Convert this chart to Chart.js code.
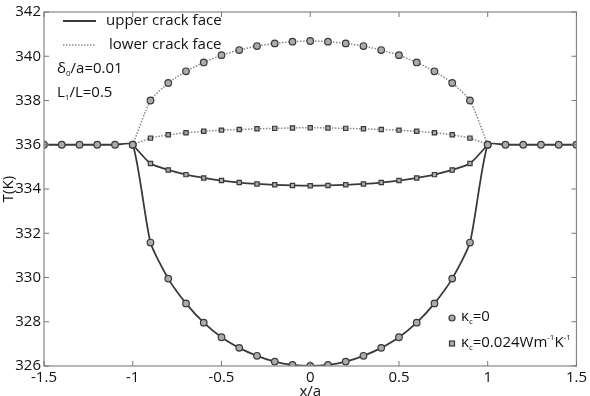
<!DOCTYPE html>
<html><head><meta charset="utf-8">
<script src="https://cdn.jsdelivr.net/npm/chart.js@4/dist/chart.umd.min.js"></script>
<style>html,body{margin:0;padding:0;background:#fff}#wrap{width:590px;height:396px}</style>
</head><body><div id="wrap"><canvas id="c" width="590" height="396"></canvas></div>
<script>
// x/a positions
const xFull = [-1.5,-1.4,-1.3,-1.2,-1.1,-1.0,-0.9,-0.8,-0.7,-0.6,-0.5,-0.4,-0.3,-0.2,-0.1,0,0.1,0.2,0.3,0.4,0.5,0.6,0.7,0.8,0.9,1.0,1.1,1.2,1.3,1.4,1.5];
const xCrack = [-1.0,-0.9,-0.8,-0.7,-0.6,-0.5,-0.4,-0.3,-0.2,-0.1,0,0.1,0.2,0.3,0.4,0.5,0.6,0.7,0.8,0.9,1.0];
// T (K) values
const upperK0 = [336,336,336,336,336,336,331.58,329.95,328.83,327.96,327.30,326.82,326.46,326.20,326.05,326.00,326.05,326.20,326.46,326.82,327.30,327.96,328.83,329.95,331.58,336,336,336,336,336,336];
const lowerK0 = [336,338.00,338.79,339.32,339.72,340.05,340.28,340.46,340.58,340.66,340.69,340.66,340.58,340.46,340.28,340.05,339.72,339.32,338.79,338.00,336];
const upperK024 = [336,335.15,334.86,334.65,334.50,334.38,334.29,334.23,334.19,334.16,334.15,334.16,334.19,334.23,334.29,334.38,334.50,334.65,334.86,335.15,336];
const lowerK024 = [336,336.30,336.45,336.54,336.61,336.66,336.69,336.72,336.74,336.76,336.77,336.76,336.74,336.72,336.69,336.66,336.61,336.54,336.45,336.30,336];
const xTicks = [-1.5,-1,-0.5,0,0.5,1,1.5];
const yTicks = [326,328,330,332,334,336,338,340,342];

const FONT = "'Open Sans', sans-serif";
const pts = (xs, ys) => xs.map((x,i)=>({x:x, y:ys[i]}));
const solid = '#3a3a3a', dotted = '#8a8a8a', mfill = '#ababab', medge = '#3a3a3a';

const extras = {
  id:'extras',
  afterDraw(chart){
    const {ctx, chartArea:a, scales:{x, y}} = chart;
    ctx.save();
    ctx.strokeStyle = '#888'; ctx.lineWidth = 1.2;
    ctx.strokeRect(a.left, a.top, a.right-a.left, a.bottom-a.top);
    ctx.strokeStyle = '#777'; ctx.lineWidth = 1;
    ctx.beginPath();
    xTicks.forEach(v=>{const p=x.getPixelForValue(v); ctx.moveTo(p,a.bottom); ctx.lineTo(p,a.bottom-5); ctx.moveTo(p,a.top); ctx.lineTo(p,a.top+5);});
    yTicks.forEach(v=>{const p=y.getPixelForValue(v); ctx.moveTo(a.left,p); ctx.lineTo(a.left+5,p); ctx.moveTo(a.right,p); ctx.lineTo(a.right-5,p);});
    ctx.stroke();
    ctx.fillStyle = '#111'; ctx.textBaseline = 'middle'; ctx.textAlign='left';
    ctx.font = `15px ${FONT}`;
    ctx.strokeStyle = solid; ctx.lineWidth = 2; ctx.setLineDash([]);
    ctx.beginPath(); ctx.moveTo(63,21); ctx.lineTo(96,21); ctx.stroke();
    ctx.fillText('upper crack face', 106, 21);
    ctx.strokeStyle = dotted; ctx.lineWidth = 1.5; ctx.setLineDash([1.5,1.5]);
    ctx.beginPath(); ctx.moveTo(63,45); ctx.lineTo(96,45); ctx.stroke();
    ctx.setLineDash([]);
    ctx.fillText('lower crack face', 109, 45);
    const sub = (base, s, rest, x0, y0) => {
      ctx.font = `15px ${FONT}`; ctx.fillText(base, x0, y0);
      let w = ctx.measureText(base).width;
      ctx.font = `8px ${FONT}`; ctx.fillText(s, x0+w, y0+5);
      w += ctx.measureText(s).width;
      ctx.font = `15px ${FONT}`; ctx.fillText(rest, x0+w, y0);
    };
    sub('δ','0','/a=0.01', 57, 69);
    sub('L','1','/L=0.5', 57, 93);
    ctx.strokeStyle = medge; ctx.fillStyle = mfill; ctx.lineWidth = 1.2;
    ctx.beginPath(); ctx.arc(452, 318, 3, 0, Math.PI*2); ctx.fill(); ctx.stroke();
    ctx.fillRect(449.5, 341, 5, 5); ctx.strokeRect(449.5, 341, 5, 5);
    ctx.fillStyle = '#111';
    sub('κ','c','=0', 461, 317);
    let x0 = 461, y0 = 343;
    ctx.font = `15px ${FONT}`; ctx.fillText('κ', x0, y0); x0 += ctx.measureText('κ').width;
    ctx.font = `8px ${FONT}`; ctx.fillText('c', x0, y0+5); x0 += ctx.measureText('c').width;
    ctx.font = `15px ${FONT}`; ctx.fillText('=0.024Wm', x0, y0); x0 += ctx.measureText('=0.024Wm').width;
    ctx.font = `8px ${FONT}`; ctx.fillText('-1', x0, y0-5); x0 += ctx.measureText('-1').width;
    ctx.font = `15px ${FONT}`; ctx.fillText('K', x0, y0); x0 += ctx.measureText('K').width;
    ctx.font = `8px ${FONT}`; ctx.fillText('-1', x0, y0-5);
    ctx.restore();
  }
};

const common = {pointBackgroundColor:mfill, pointBorderColor:medge, pointBorderWidth:1.2, tension:0.2};
new Chart(document.getElementById('c'), {
  type:'line',
  data:{datasets:[
    Object.assign({label:'lower crack face, κc=0', data:pts(xCrack, lowerK0), borderColor:dotted, borderWidth:1.5, borderDash:[1.5,1.5], pointStyle:'circle', pointRadius:3.3}, common),
    Object.assign({label:'lower crack face, κc=0.024', data:pts(xCrack, lowerK024), borderColor:dotted, borderWidth:1.5, borderDash:[1.5,1.5], pointStyle:'rect', pointRadius:3}, common),
    Object.assign({label:'upper crack face, κc=0.024', data:pts(xCrack, upperK024), borderColor:solid, borderWidth:1.8, pointStyle:'rect', pointRadius:3}, common),
    Object.assign({label:'upper crack face, κc=0', data:pts(xFull, upperK0), borderColor:solid, borderWidth:1.8, pointStyle:'circle', pointRadius:3.3}, common)
  ]},
  options:{
    responsive:false, animation:false, devicePixelRatio:1,
    layout:{padding:{top:7, right:12, left:0, bottom:0}},
    plugins:{legend:{display:false}, tooltip:{enabled:false}},
    scales:{
      x:{type:'linear', min:-1.5, max:1.5,
        afterBuildTicks(s){ s.ticks = xTicks.map(v=>({value:v})); },
        afterFit(s){ s.height = 30; },
        grid:{display:false, drawTicks:false}, border:{display:false},
        ticks:{color:'#111', font:{family:FONT, size:15}, padding:3, maxRotation:0, callback:v=>String(v)},
        title:{display:true, text:'x/a', color:'#111', font:{family:FONT, size:15}, padding:{top:0, bottom:-5}}
      },
      y:{type:'linear', min:326, max:342,
        afterBuildTicks(s){ s.ticks = yTicks.map(v=>({value:v})); },
        afterFit(s){ s.width = 44; },
        grid:{display:false, drawTicks:false}, border:{display:false},
        ticks:{color:'#111', font:{family:FONT, size:15}, padding:3, callback:v=>String(v)},
        title:{display:true, text:'T(K)', color:'#111', font:{family:FONT, size:15}, padding:{top:0, bottom:0}}
      }
    }
  },
  plugins:[extras]
});
</script></body></html>
